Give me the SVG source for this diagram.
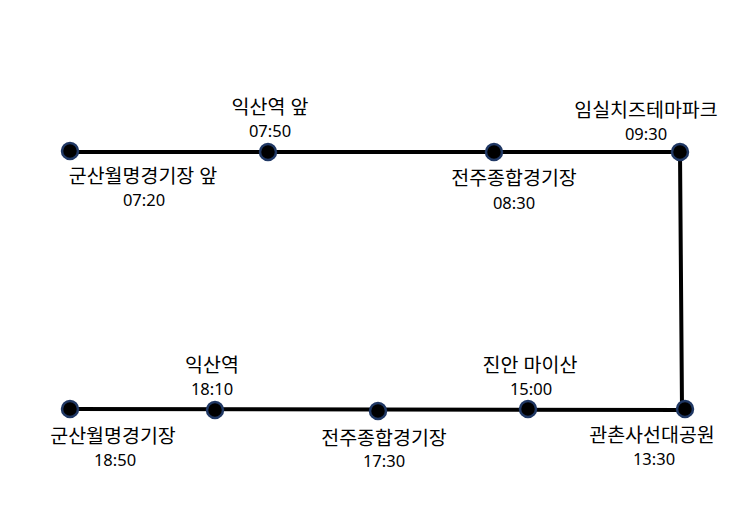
<svg xmlns="http://www.w3.org/2000/svg" width="754" height="530" viewBox="0 0 754 530">
<style>
.ln{stroke:#000;stroke-width:4;fill:none;stroke-linecap:butt}
.nd{fill:#000;stroke:#203864;stroke-width:2.5}
.k{font-family:"Noto Sans","Noto Sans CJK KR",sans-serif;font-size:19.5px;fill:#000;text-anchor:middle}
.t{font-family:"Noto Sans","Noto Sans CJK KR",sans-serif;font-size:16.5px;fill:#000;text-anchor:middle}
</style>
<rect width="754" height="530" fill="#fff"/>
<g id="connectors">
<path class="ln" d="M70 152 L680 152 L682 409"/>
<path class="ln" d="M70 409 L685 410"/>
</g>
<g id="n1"><circle class="nd" cx="70" cy="151" r="8"/><text class="k" x="143" y="183">군산월명경기장 앞</text><text class="t" x="144" y="206">07:20</text></g>
<g id="n2"><circle class="nd" cx="268" cy="152" r="8"/><text class="k" x="270" y="114">익산역 앞</text><text class="t" x="270" y="137">07:50</text></g>
<g id="n3"><circle class="nd" cx="494" cy="152" r="8"/><text class="k" x="514" y="185">전주종합경기장</text><text class="t" x="514" y="209">08:30</text></g>
<g id="n4"><circle class="nd" cx="680" cy="152" r="8"/><text class="k" x="646" y="117">임실치즈테마파크</text><text class="t" x="646" y="140">09:30</text></g>
<g id="n5"><circle class="nd" cx="685" cy="409" r="8"/><text class="k" x="652" y="442">관촌사선대공원</text><text class="t" x="654" y="465">13:30</text></g>
<g id="n6"><circle class="nd" cx="528" cy="409" r="8"/><text class="k" x="530" y="372">진안 마이산</text><text class="t" x="531" y="395">15:00</text></g>
<g id="n7"><circle class="nd" cx="378" cy="411" r="8"/><text class="k" x="384" y="445">전주종합경기장</text><text class="t" x="384" y="467">17:30</text></g>
<g id="n8"><circle class="nd" cx="215" cy="410" r="8"/><text class="k" x="212" y="372">익산역</text><text class="t" x="212" y="395">18:10</text></g>
<g id="n9"><circle class="nd" cx="70" cy="409" r="8"/><text class="k" x="113" y="443">군산월명경기장</text><text class="t" x="115" y="466">18:50</text></g>
</svg>
